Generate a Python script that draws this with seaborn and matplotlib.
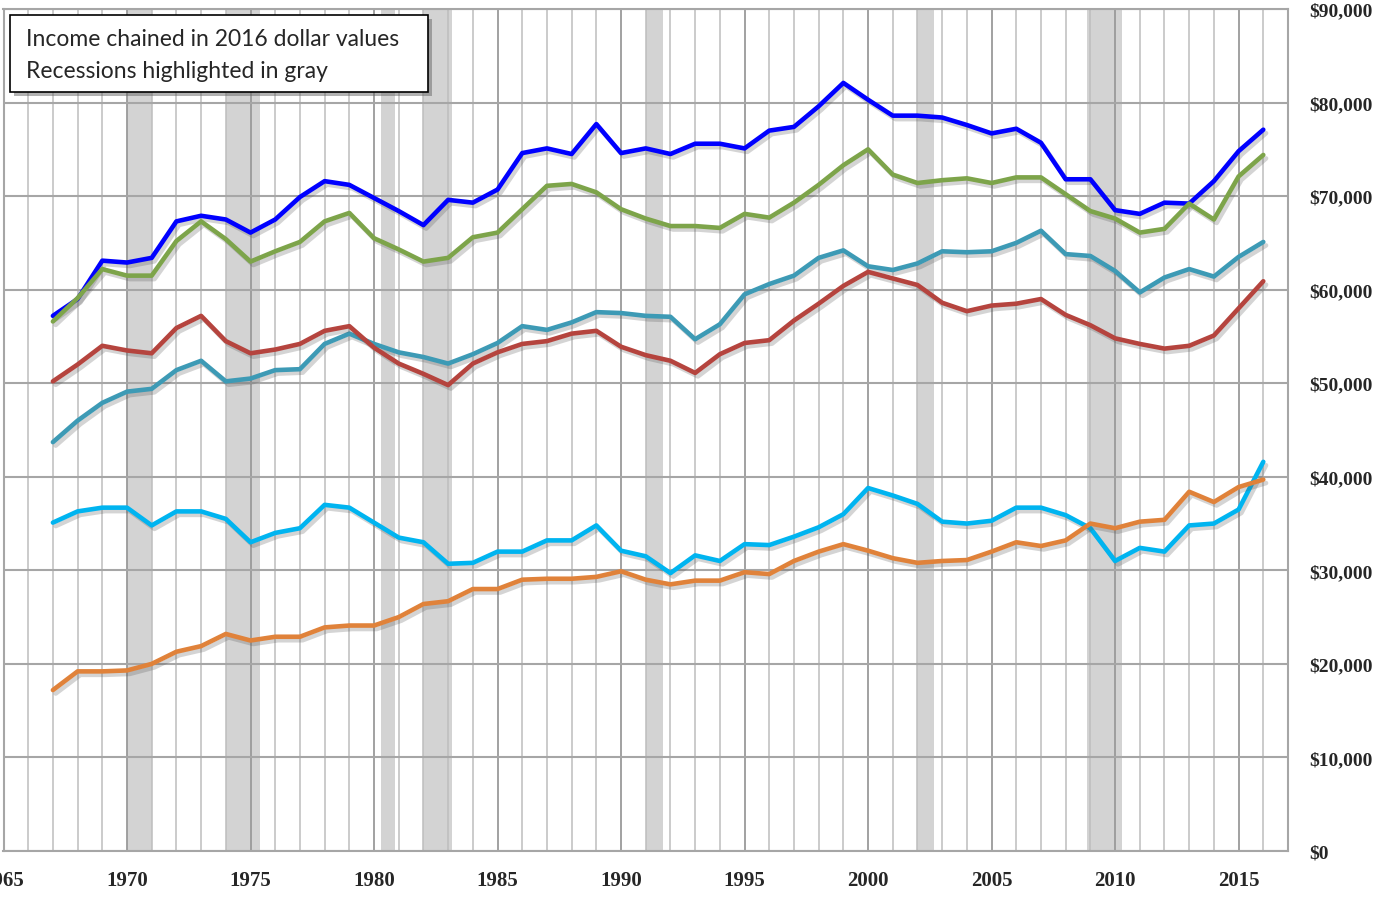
# Household income by group, chained 2016 dollars, with recession bands
import pandas as pd
import matplotlib.pyplot as plt
import matplotlib.patheffects as pe
from matplotlib.patches import Rectangle
from matplotlib.ticker import MultipleLocator, FuncFormatter
import seaborn as sns

years = list(range(1967, 2017))

blue = [57200, 59000, 63100, 62900, 63400, 67300, 67900, 67500, 66100, 67500,
        69900, 71600, 71200, 69800, 68400, 66900, 69600, 69300, 70700, 74600,
        75100, 74500, 77700, 74600, 75100, 74500, 75600, 75600, 75100, 77000,
        77400, 79600, 82100, 80300, 78600, 78600, 78400, 77600, 76700, 77200,
        75700, 71800, 71800, 68500, 68100, 69300, 69200, 71600, 74800, 77100]

green = [56600, 59100, 62200, 61500, 61500, 65200, 67300, 65400, 63000, 64100,
         65100, 67300, 68200, 65500, 64300, 63000, 63400, 65600, 66100, 68600,
         71100, 71300, 70400, 68600, 67600, 66800, 66800, 66600, 68100, 67700,
         69300, 71200, 73300, 75000, 72300, 71400, 71700, 71900, 71400, 72000,
         72000, 70200, 68400, 67600, 66100, 66500, 69200, 67500, 72100, 74400]

teal = [43700, 46000, 47900, 49100, 49400, 51400, 52400, 50200, 50500, 51400,
        51500, 54200, 55300, 54200, 53300, 52800, 52100, 53100, 54300, 56100,
        55700, 56500, 57600, 57500, 57200, 57100, 54700, 56300, 59500, 60600,
        61500, 63400, 64200, 62500, 62100, 62800, 64100, 64000, 64100, 65000,
        66300, 63800, 63600, 62000, 59700, 61300, 62200, 61400, 63500, 65100]

red = [50200, 52000, 54000, 53500, 53200, 55900, 57200, 54500, 53200, 53600,
       54200, 55600, 56100, 53800, 52100, 51000, 49800, 52100, 53300, 54200,
       54500, 55300, 55600, 53900, 53000, 52400, 51100, 53100, 54300, 54600,
       56700, 58500, 60400, 61900, 61200, 60500, 58600, 57700, 58300, 58500,
       59000, 57300, 56200, 54800, 54200, 53700, 54000, 55100, 58000, 60900]

light_blue = [35100, 36300, 36700, 36700, 34800, 36300, 36300, 35500, 33000, 34000,
              34500, 37000, 36700, 35100, 33500, 33000, 30700, 30800, 32000, 32000,
              33200, 33200, 34800, 32100, 31500, 29700, 31600, 31000, 32800, 32700,
              33600, 34600, 36000, 38800, 38000, 37100, 35200, 35000, 35300, 36700,
              36700, 35900, 34500, 31000, 32400, 32000, 34800, 35000, 36500, 41600]

orange = [17200, 19200, 19200, 19300, 20000, 21300, 21900, 23200, 22500, 22900,
          22900, 23900, 24100, 24100, 25000, 26400, 26700, 28000, 28000, 29000,
          29100, 29100, 29300, 29900, 29000, 28500, 28900, 28900, 29800, 29600,
          31000, 32000, 32800, 32100, 31300, 30800, 31000, 31100, 32000, 33000,
          32600, 33200, 35000, 34500, 35200, 35400, 38400, 37300, 38900, 39700]

# recession periods (start, end) in fractional years
recessions = [(1970.0, 1971.0), (1974.0, 1975.4), (1980.3, 1980.85),
              (1982.0, 1983.15), (1991.0, 1991.7), (2002.0, 2002.65),
              (2008.85, 2010.3)]

series = {'blue': blue, 'green': green, 'teal': teal, 'red': red,
          'light_blue': light_blue, 'orange': orange}
colors = {'blue': '#0000FF', 'green': '#7DA44A', 'teal': '#3D9AB5',
          'red': '#B5443E', 'light_blue': '#00B4F0', 'orange': '#E0823A'}

df = pd.DataFrame({'year': years, **series})
df_long = df.melt(id_vars='year', var_name='group', value_name='income')

sns.set_style('white')

fig = plt.figure(figsize=(13.98, 9.03), dpi=100)
ax = fig.add_axes([3.5 / 1398, 51 / 903, (1288 - 3.5) / 1398, (852 - 10) / 903])

# recession bands
for start, end in recessions:
    ax.axvspan(start, end, color='#D3D3D3', lw=0, zorder=0)

sns.lineplot(data=df_long, x='year', y='income', hue='group', palette=colors,
             linewidth=3.3, legend=False, ax=ax, zorder=3)

shadow = [pe.SimpleLineShadow(offset=(2, -2.5), shadow_color='#555555', alpha=0.25),
          pe.Normal()]
for line in ax.get_lines():
    line.set_path_effects(shadow)
    line.set_solid_joinstyle('round')
    line.set_solid_capstyle('round')

ax.set_xlim(1965, 2017)
ax.set_ylim(0, 90000)

ax.xaxis.set_major_locator(MultipleLocator(5))
ax.xaxis.set_minor_locator(MultipleLocator(1))
ax.yaxis.set_major_locator(MultipleLocator(10000))
ax.grid(True, which='major', axis='x', color='#9A9A9A', lw=1.3, zorder=1)
ax.grid(True, which='minor', axis='x', color='#BDBDBD', lw=1.1, zorder=1)
ax.grid(True, which='major', axis='y', color='#A6A6A6', lw=1.5, zorder=1)
ax.set_axisbelow(True)

ax.yaxis.tick_right()
ax.yaxis.set_major_formatter(FuncFormatter(lambda v, p: f'${v:,.0f}'))
ax.tick_params(axis='both', which='both', length=0)
ax.tick_params(axis='y', pad=15)
ax.tick_params(axis='x', pad=14)
for lab in ax.get_yticklabels():
    lab.set_fontfamily('Liberation Serif')
    lab.set_fontweight('bold')
    lab.set_fontsize(14)
for lab in ax.get_xticklabels():
    lab.set_fontfamily('Liberation Serif')
    lab.set_fontweight('bold')
    lab.set_fontsize(15)

ax.set_xlabel('')
ax.set_ylabel('')
for side in ax.spines.values():
    side.set_color('#A6A6A6')
    side.set_linewidth(1.5)

# note box in the top left corner
box = Rectangle((10 / 1398, 1 - 93 / 903), 418 / 1398, 77 / 903,
                transform=fig.transFigure, facecolor='white', edgecolor='black',
                linewidth=1.2, zorder=10)
box.set_path_effects([pe.withSimplePatchShadow(offset=(3, -3), shadow_rgbFace='#666666', alpha=0.5)])
fig.patches.append(box)
fig.text(26 / 1398, 1 - 40 / 903, 'Income chained in 2016 dollar values',
         fontsize=16.5, family='Lato', va='center', ha='left', zorder=11)
fig.text(26 / 1398, 1 - 72 / 903, 'Recessions highlighted in gray',
         fontsize=16.5, family='Lato', va='center', ha='left', zorder=11)

plt.savefig('out.png', dpi=100)
